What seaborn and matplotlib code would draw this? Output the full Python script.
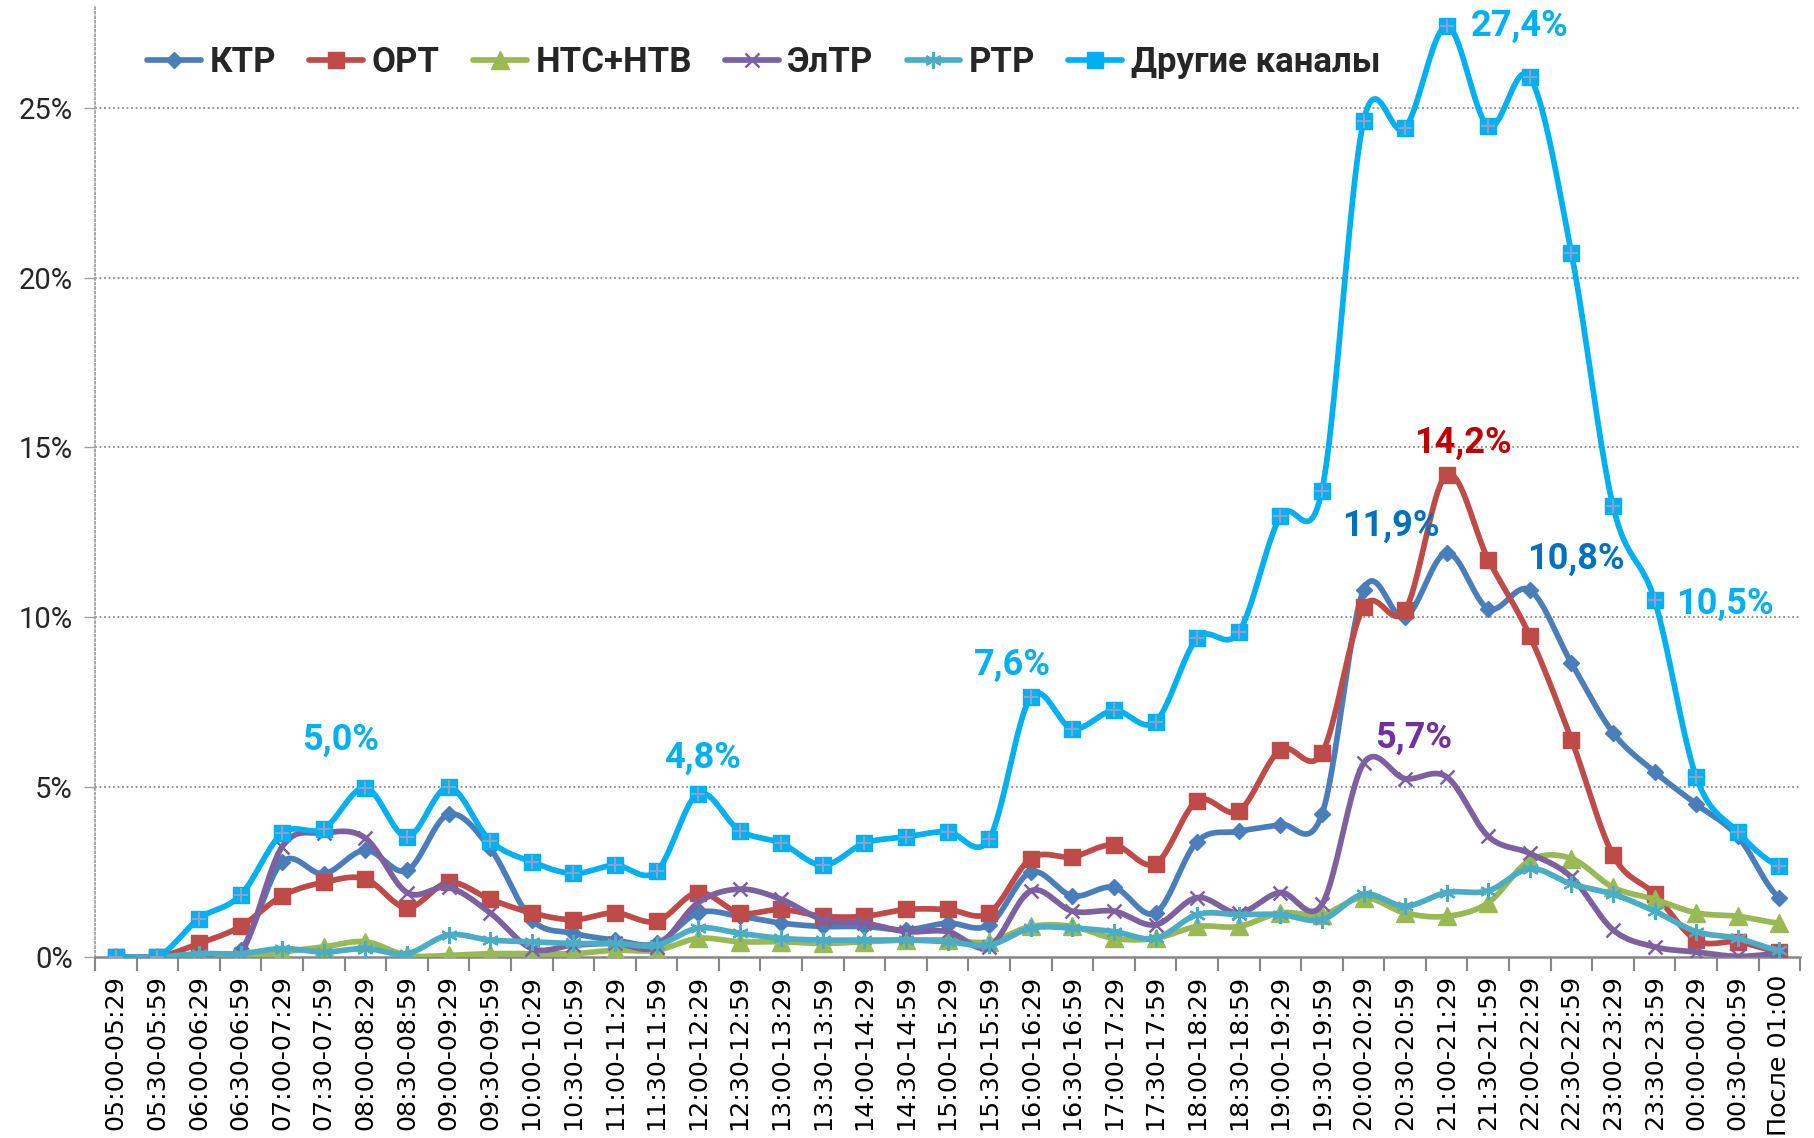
import numpy as np
import pandas as pd
import matplotlib
matplotlib.use("Agg")
import matplotlib.pyplot as plt
import seaborn as sns
from matplotlib.lines import Line2D
from matplotlib.ticker import FuncFormatter, FixedLocator

categories = ["05:00-05:29", "05:30-05:59", "06:00-06:29", "06:30-06:59", "07:00-07:29",
              "07:30-07:59", "08:00-08:29", "08:30-08:59", "09:00-09:29", "09:30-09:59",
              "10:00-10:29", "10:30-10:59", "11:00-11:29", "11:30-11:59", "12:00-12:29",
              "12:30-12:59", "13:00-13:29", "13:30-13:59", "14:00-14:29", "14:30-14:59",
              "15:00-15:29", "15:30-15:59", "16:00-16:29", "16:30-16:59", "17:00-17:29",
              "17:30-17:59", "18:00-18:29", "18:30-18:59", "19:00-19:29", "19:30-19:59",
              "20:00-20:29", "20:30-20:59", "21:00-21:29", "21:30-21:59", "22:00-22:29",
              "22:30-22:59", "23:00-23:29", "23:30-23:59", "00:00-00:29", "00:30-00:59",
              "После 01:00"]

ktr = [0, 0, 0.05, 0.2, 2.8, 2.45, 3.15, 2.55, 4.2, 3.2, 1.1, 0.7, 0.5, 0.4, 1.3, 1.2,
       1.0, 0.9, 0.9, 0.8, 1.0, 0.95, 2.5, 1.8, 2.05, 1.3, 3.4, 3.7, 3.9, 4.2, 10.8, 10.0,
       11.9, 10.25, 10.8, 8.65, 6.6, 5.45, 4.5, 3.55, 1.75]
ort = [0, 0, 0.4, 0.9, 1.8, 2.2, 2.3, 1.45, 2.2, 1.7, 1.3, 1.1, 1.3, 1.05, 1.9, 1.3,
       1.4, 1.2, 1.2, 1.4, 1.4, 1.3, 2.9, 2.95, 3.3, 2.75, 4.6, 4.3, 6.1, 6.0, 10.3, 10.2,
       14.2, 11.7, 9.45, 6.4, 3.0, 1.85, 0.5, 0.45, 0.15]
ntc_ntv = [0, 0, 0.0, 0.0, 0.15, 0.3, 0.45, 0.05, 0.05, 0.1, 0.1, 0.1, 0.2, 0.2, 0.55, 0.45,
           0.45, 0.4, 0.45, 0.5, 0.5, 0.45, 0.9, 0.9, 0.55, 0.55, 0.9, 0.9, 1.3, 1.25, 1.75, 1.3,
           1.2, 1.6, 2.85, 2.9, 2.05, 1.7, 1.3, 1.2, 1.0]
eltr = [0, 0, 0.05, 0.1, 3.25, 3.65, 3.5, 1.9, 2.05, 1.3, 0.25, 0.35, 0.4, 0.3, 1.6, 2.0,
        1.7, 1.1, 1.0, 0.75, 0.75, 0.3, 1.95, 1.35, 1.35, 0.95, 1.75, 1.3, 1.9, 1.55, 5.7, 5.25,
        5.3, 3.55, 3.05, 2.35, 0.8, 0.3, 0.15, 0.02, 0.1]
rtr = [0, 0, 0.1, 0.1, 0.25, 0.15, 0.25, 0.1, 0.65, 0.5, 0.45, 0.4, 0.4, 0.35, 0.85, 0.7,
       0.55, 0.5, 0.5, 0.5, 0.45, 0.35, 0.85, 0.85, 0.75, 0.55, 1.25, 1.25, 1.25, 1.1, 1.85, 1.5,
       1.9, 1.95, 2.6, 2.15, 1.85, 1.35, 0.75, 0.55, 0.2]
other = [0, 0, 1.13, 1.82, 3.64, 3.78, 4.98, 3.54, 5.0, 3.42, 2.8, 2.46, 2.7, 2.52, 4.8, 3.72,
         3.35, 2.7, 3.35, 3.54, 3.69, 3.48, 7.65, 6.72, 7.26, 6.93, 9.38, 9.56, 12.97, 13.73, 24.6, 24.4,
         27.4, 24.45, 25.9, 20.72, 13.27, 10.5, 5.3, 3.68, 2.67]

series_names = ["КТР", "ОРТ", "НТС+НТВ", "ЭлТР", "РТР", "Другие каналы"]
series_values = [ktr, ort, ntc_ntv, eltr, rtr, other]

# annotations: (text, x position in category units, y value, colour)
ann_texts = ["5,0%", "4,8%", "7,6%", "11,9%", "14,2%", "27,4%", "10,8%", "5,7%", "10,5%"]
ann_x = [5.4, 14.1, 21.55, 30.65, 32.4, 33.75, 35.1, 31.2, 38.7]
ann_y = [6.4, 5.86, 8.6, 12.68, 15.13, 27.4, 11.72, 6.45, 10.4]
ann_colors = ["#00B0F0", "#00B0F0", "#00B0F0", "#0070C0", "#C00000", "#00B0F0",
              "#0070C0", "#7030A0", "#00B0F0"]

colors = ["#4A7EBB", "#BE4B48", "#98B954", "#7D60A0", "#4BACC6", "#00B0F0"]
markers = ["D", "s", "^", "x", (6, 2, 0), "s"]
msizes = [8, 11, 13, 10, 12, 12]

sns.set_theme(style="white")
plt.rcParams['font.family'] = ['Roboto', 'DejaVu Sans']


def smooth(y, n=24):
    y = np.asarray(y, float)
    N = len(y)
    m = np.empty(N)
    m[1:-1] = (y[2:] - y[:-2]) / 2.0
    m[0] = (y[1] - y[0]) * 0.5
    m[-1] = (y[-1] - y[-2]) * 0.5
    xs, ys = [], []
    t = np.linspace(0, 1, n, endpoint=False)
    h00 = 2 * t**3 - 3 * t**2 + 1
    h10 = t**3 - 2 * t**2 + t
    h01 = -2 * t**3 + 3 * t**2
    h11 = t**3 - t**2
    for i in range(N - 1):
        xs.append(i + t)
        ys.append(h00 * y[i] + h10 * m[i] + h01 * y[i + 1] + h11 * m[i + 1])
    xs.append([N - 1])
    ys.append([y[-1]])
    return np.concatenate(xs), np.concatenate(ys)


fig = plt.figure(figsize=(18.14, 11.38), dpi=100)
ax = fig.add_axes([0.0524, 0.159, 0.94, 0.836])

LW = 4.1
idx = np.arange(len(categories))
for k, (name, vals) in enumerate(zip(series_names, series_values)):
    xs, ys = smooth(vals)
    df = pd.DataFrame({"x": xs, "y": ys})
    sns.lineplot(data=df, x="x", y="y", color=colors[k], lw=LW, ax=ax,
                 sort=False, estimator=None, zorder=2 + k)
    if k == 3:
        ax.plot(idx, vals, ls="none", marker=markers[k], ms=msizes[k], mew=1.8,
                color=colors[k], zorder=2 + k)
    elif k == 4:
        ax.plot(idx, vals, ls="none", marker=markers[k], ms=msizes[k], mew=1.6,
                color=colors[k], mec=colors[k], zorder=2 + k)
    else:
        ax.plot(idx, vals, ls="none", marker=markers[k], ms=msizes[k],
                color=colors[k], mec=colors[k], zorder=2 + k)
    if k == 5:
        ax.plot(idx, vals, ls="none", marker="+", ms=10, mew=1.5,
                color="#8EA0C8", zorder=2 + k)

for s, x, y, c in zip(ann_texts, ann_x, ann_y, ann_colors):
    ax.text(x, y, s, ha="center", va="center", fontsize=26, fontweight="bold",
            color=c, zorder=20)

ax.set_xlim(-0.5, len(categories) - 0.5)
ax.set_ylim(0, 28)
ax.set_xlabel("")
ax.set_ylabel("")

ax.set_xticks(idx)
ax.set_xticklabels(categories, rotation=90, fontsize=18.3, family="DejaVu Sans", color="black")
ax.xaxis.set_minor_locator(FixedLocator(np.arange(-0.5, len(categories), 1.0)))
ax.tick_params(axis="x", which="major", length=0, pad=13)
ax.tick_params(axis="x", which="minor", length=10, width=1.5, color="#868686", direction="out",
               bottom=True)

ax.set_yticks([0, 5, 10, 15, 20, 25])
ax.yaxis.set_major_formatter(FuncFormatter(lambda v, p: f"{v:.0f}%"))
ax.tick_params(axis="y", which="major", length=8, width=1.0, color="#A0A0A0", direction="out",
               labelsize=21, pad=8, left=True)
for lab in ax.get_yticklabels():
    lab.set_family(["Roboto", "DejaVu Sans"])

for yv in [5, 10, 15, 20, 25]:
    ax.axhline(yv, color="#8C8C8C", ls=(0, (1, 1.5)), lw=1.3, zorder=1)

for side in ["top", "right"]:
    ax.spines[side].set_visible(False)
ax.spines["left"].set_color("#A0A0A0")
ax.spines["left"].set_linestyle((0, (1, 1.5)))
ax.spines["left"].set_linewidth(1.3)
ax.spines["bottom"].set_color("#868686")
ax.spines["bottom"].set_linewidth(1.8)

handles = []
for k in range(len(series_names)):
    kw = dict(color=colors[k], lw=LW, marker=markers[k], ms=msizes[k])
    if k in (3, 4):
        kw["mew"] = 1.8
    handles.append(Line2D([0], [0], **kw))
leg = fig.legend(handles, series_names, loc="center left", bbox_to_anchor=(0.064, 0.945),
                 ncol=6, frameon=False, handlelength=1.55, handletextpad=0.25,
                 columnspacing=0.95, prop={"weight": "bold", "size": 25})

fig.savefig("out.png", dpi=100)
